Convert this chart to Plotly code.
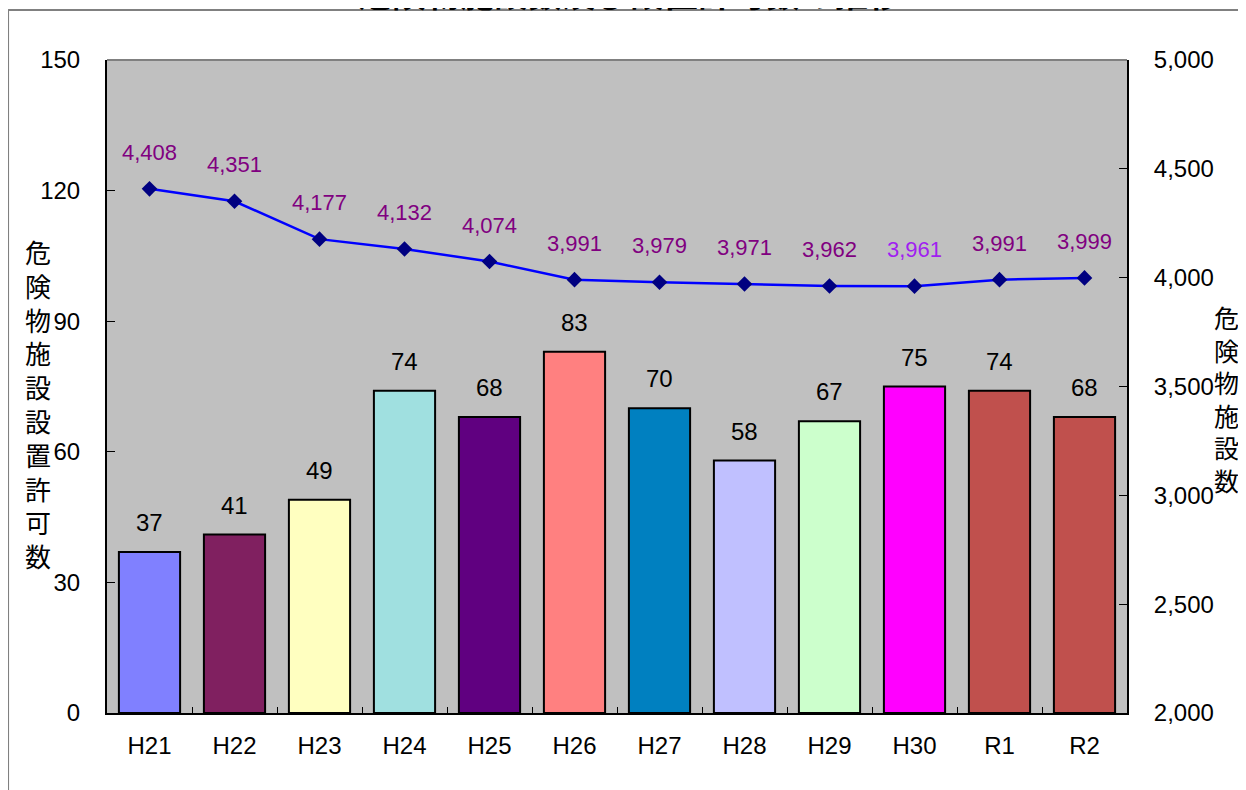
import plotly.graph_objects as go

categories = ["H21", "H22", "H23", "H24", "H25", "H26", "H27", "H28", "H29", "H30", "R1", "R2"]
permits = [37, 41, 49, 74, 68, 83, 70, 58, 67, 75, 74, 68]
facilities = [4408, 4351, 4177, 4132, 4074, 3991, 3979, 3971, 3962, 3961, 3991, 3999]
bar_colors = ["#8080FF", "#802060", "#FFFFC0", "#A0E0E0", "#600080", "#FF8080",
              "#0080C0", "#C0C0FF", "#CCFFCC", "#FF00FF", "#C0504D", "#C0504D"]
label_colors = ["#800080"] * 9 + ["#A020F0"] + ["#800080"] * 2
title_text = "危険物施設数及び設置許可数の推移"
left_title = "危険物施設設置許可数"
right_title = "危険物施設数"

FONT = "Liberation Sans, Arial, Noto Sans CJK JP, sans-serif"
CJK = "Noto Sans CJK JP"

fig = go.Figure()
fig.add_trace(go.Bar(
    x=categories, y=permits,
    marker=dict(color=bar_colors, line=dict(color="black", width=2)),
    yaxis="y", showlegend=False, hoverinfo="x+y",
))
fig.add_trace(go.Scatter(
    x=categories, y=facilities, yaxis="y2", mode="lines+markers",
    line=dict(color="#0000FF", width=2.5),
    marker=dict(symbol="diamond", size=12, color="#000080"),
    showlegend=False,
))

annotations = []
for c, v in zip(categories, permits):
    annotations.append(dict(x=c, y=v, xref="x", yref="y", text=str(v), showarrow=False,
                            yanchor="bottom", yshift=14,
                            font=dict(family=FONT, size=24, color="black")))
for c, v, col in zip(categories, facilities, label_colors):
    annotations.append(dict(x=c, y=v, xref="x", yref="y2", text=f"{v:,}", showarrow=False,
                            yanchor="bottom", yshift=22,
                            font=dict(family=FONT, size=22, color=col)))

annotations.append(dict(x=-0.0676, y=0.4747, xref="paper", yref="paper",
                        xanchor="center", yanchor="middle",
                        text="<br>".join(left_title), showarrow=False,
                        font=dict(family=CJK, size=26, color="black"),
                        align="center"))
annotations.append(dict(x=1.098, y=0.482, xref="paper", yref="paper",
                        xanchor="center", yanchor="middle",
                        text="<br>".join(right_title), showarrow=False,
                        font=dict(family=CJK, size=25, color="black"),
                        align="center"))
annotations.append(dict(x=0.513, y=1.103, xref="paper", yref="paper",
                        xanchor="center", yanchor="middle",
                        text="<b>" + title_text + "</b>", showarrow=False,
                        font=dict(family=CJK, size=34, color="black")))

shapes = [
    dict(type="line", xref="paper", yref="paper", x0=-0.097, x1=1.13, y0=1.0766, y1=1.0766,
         line=dict(color="#808080", width=2)),
    dict(type="line", xref="paper", yref="paper", x0=-0.097, x1=-0.097, y0=1.0766, y1=-0.14,
         line=dict(color="#808080", width=2)),
    dict(type="line", xref="paper", yref="paper", x0=0, x1=1, y0=1, y1=1,
         line=dict(color="#808080", width=2)),
]

fig.update_layout(
    width=1246, height=790,
    margin=dict(l=99, r=127, t=52, b=85, autoexpand=False),
    paper_bgcolor="white", plot_bgcolor="#C0C0C0",
    bargap=0.28,
    font=dict(family=FONT, size=24, color="black"),
    xaxis=dict(type="category", range=[-0.5, len(categories) - 0.5],
               showline=True, linecolor="black", linewidth=2,
               ticks="inside", tickson="boundaries", ticklen=6, tickcolor="black",
               showgrid=False, tickfont=dict(size=24), ticklabelstandoff=10,
               automargin=False),
    yaxis=dict(range=[0, 150], dtick=30, showline=True, linecolor="black", linewidth=2,
               ticks="inside", ticklen=8, tickcolor="black", showgrid=False, zeroline=False,
               tickfont=dict(size=24), ticklabelstandoff=20, automargin=False),
    yaxis2=dict(range=[2000, 5000], dtick=500, overlaying="y", side="right",
                showline=True, linecolor="black", linewidth=2,
                ticks="inside", ticklen=8, tickcolor="black", showgrid=False, zeroline=False,
                tickformat=",", tickfont=dict(size=24), ticklabelstandoff=20,
                automargin=False),
    annotations=annotations,
    shapes=shapes,
)

fig.write_html("out.html")
